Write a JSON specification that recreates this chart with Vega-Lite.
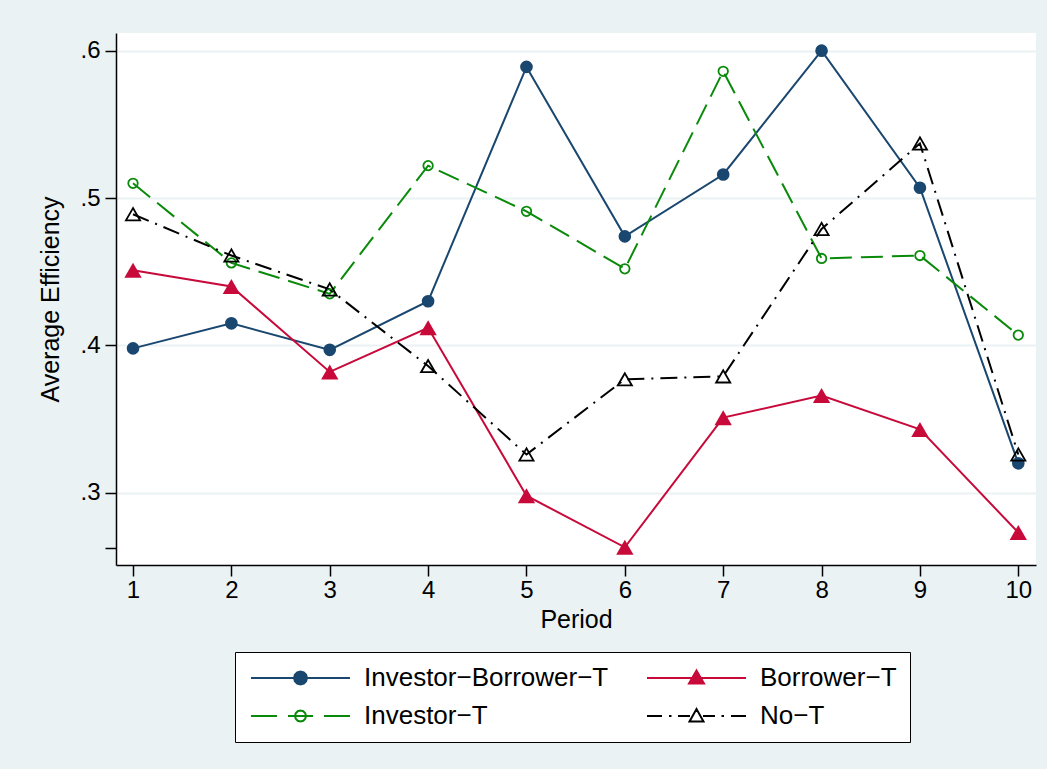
{
  "$schema": "https://vega.github.io/schema/vega-lite/v6.json",
  "width": 920,
  "height": 532,
  "autosize": {"type": "none"},
  "padding": {"left": 116, "top": 33, "right": 11, "bottom": 204},
  "background": "#eaf2f3",
  "datasets": {
    "d": [
      {"period": 1, "series": "Investor−Borrower−T", "value": 0.398},
      {"period": 2, "series": "Investor−Borrower−T", "value": 0.415},
      {"period": 3, "series": "Investor−Borrower−T", "value": 0.397},
      {"period": 4, "series": "Investor−Borrower−T", "value": 0.430},
      {"period": 5, "series": "Investor−Borrower−T", "value": 0.589},
      {"period": 6, "series": "Investor−Borrower−T", "value": 0.474},
      {"period": 7, "series": "Investor−Borrower−T", "value": 0.516},
      {"period": 8, "series": "Investor−Borrower−T", "value": 0.600},
      {"period": 9, "series": "Investor−Borrower−T", "value": 0.507},
      {"period": 10, "series": "Investor−Borrower−T", "value": 0.320},
      {"period": 1, "series": "Borrower−T", "value": 0.451},
      {"period": 2, "series": "Borrower−T", "value": 0.440},
      {"period": 3, "series": "Borrower−T", "value": 0.382},
      {"period": 4, "series": "Borrower−T", "value": 0.412},
      {"period": 5, "series": "Borrower−T", "value": 0.298},
      {"period": 6, "series": "Borrower−T", "value": 0.263},
      {"period": 7, "series": "Borrower−T", "value": 0.351},
      {"period": 8, "series": "Borrower−T", "value": 0.366},
      {"period": 9, "series": "Borrower−T", "value": 0.343},
      {"period": 10, "series": "Borrower−T", "value": 0.273},
      {"period": 1, "series": "Investor−T", "value": 0.510},
      {"period": 2, "series": "Investor−T", "value": 0.456},
      {"period": 3, "series": "Investor−T", "value": 0.435},
      {"period": 4, "series": "Investor−T", "value": 0.522},
      {"period": 5, "series": "Investor−T", "value": 0.491},
      {"period": 6, "series": "Investor−T", "value": 0.452},
      {"period": 7, "series": "Investor−T", "value": 0.586},
      {"period": 8, "series": "Investor−T", "value": 0.459},
      {"period": 9, "series": "Investor−T", "value": 0.461},
      {"period": 10, "series": "Investor−T", "value": 0.407},
      {"period": 1, "series": "No−T", "value": 0.489},
      {"period": 2, "series": "No−T", "value": 0.461},
      {"period": 3, "series": "No−T", "value": 0.438},
      {"period": 4, "series": "No−T", "value": 0.386},
      {"period": 5, "series": "No−T", "value": 0.326},
      {"period": 6, "series": "No−T", "value": 0.377},
      {"period": 7, "series": "No−T", "value": 0.379},
      {"period": 8, "series": "No−T", "value": 0.479},
      {"period": 9, "series": "No−T", "value": 0.537},
      {"period": 10, "series": "No−T", "value": 0.326}
    ]
  },
  "data": {"name": "d"},
  "encoding": {
    "x": {
      "field": "period",
      "type": "quantitative",
      "scale": {"domain": [0.827, 10.18], "nice": false, "zero": false},
      "axis": {
        "values": [1, 2, 3, 4, 5, 6, 7, 8, 9, 10],
        "title": "Period",
        "grid": false,
        "labelPadding": 2,
        "titlePadding": 5
      }
    },
    "y": {
      "field": "value",
      "type": "quantitative",
      "scale": {"domain": [0.251, 0.612], "nice": false, "zero": false},
      "axis": {
        "values": [0.2625, 0.3, 0.4, 0.5, 0.6],
        "title": "Average Efficiency",
        "grid": true,
        "gridColor": {"condition": {"test": "datum.value < 0.28", "value": "rgba(0,0,0,0)"}, "value": "#eaf2f3"},
        "gridWidth": 2,
        "labelExpr": "datum.value < 0.28 ? '' : replace(format(datum.value, '.1f'), '0.', '.')",
        "labelPadding": 5,
        "titlePadding": 16
      }
    }
  },
  "layer": [
    {
      "transform": [{"filter": "datum.series === 'Investor−Borrower−T'"}],
      "mark": {"type": "line", "strokeWidth": 2, "stroke": "#1a476f"},
      "encoding": {}
    },
    {
      "transform": [{"filter": "datum.series === 'Borrower−T'"}],
      "mark": {"type": "line", "strokeWidth": 2, "stroke": "#c70a3a"},
      "encoding": {}
    },
    {
      "transform": [{"filter": "datum.series === 'Investor−T'"}],
      "mark": {"type": "line", "strokeWidth": 2, "stroke": "#0a8a0a", "strokeDash": [22, 9]},
      "encoding": {}
    },
    {
      "transform": [{"filter": "datum.series === 'No−T'"}],
      "mark": {"type": "line", "strokeWidth": 2, "stroke": "#000000", "strokeDash": [17, 7, 2, 7]},
      "encoding": {}
    },
    {
      "transform": [{"filter": "datum.series === 'Investor−Borrower−T'"}],
      "mark": {"type": "point", "shape": "circle", "filled": true, "fill": "#1a476f", "stroke": "#1a476f", "strokeWidth": 0, "size": 160, "opacity": 1}
    },
    {
      "transform": [{"filter": "datum.series === 'Borrower−T'"}],
      "mark": {"type": "point", "shape": "triangle-up", "filled": true, "fill": "#c70a3a", "stroke": "#c70a3a", "strokeWidth": 0, "size": 300, "opacity": 1}
    },
    {
      "transform": [{"filter": "datum.series === 'Investor−T'"}],
      "mark": {"type": "point", "shape": "circle", "filled": false, "fill": null, "stroke": "#0a8a0a", "strokeWidth": 1.8, "size": 90, "opacity": 1}
    },
    {
      "transform": [{"filter": "datum.series === 'No−T'"}],
      "mark": {"type": "point", "shape": "triangle-up", "filled": false, "fill": null, "stroke": "#000000", "strokeWidth": 1.8, "size": 200, "opacity": 1}
    },
    {
      "transform": [{"filter": "datum.period > 100"}],
      "mark": {"type": "point", "filled": true, "opacity": 1},
      "encoding": {
        "stroke": {
          "field": "series",
          "type": "nominal",
          "scale": {
            "domain": ["Investor−Borrower−T", "Borrower−T", "Investor−T", "No−T"],
            "range": ["#1a476f", "#c70a3a", "#0a8a0a", "#000000"]
          },
          "legend": {"title": null}
        },
        "fill": {
          "field": "series",
          "type": "nominal",
          "scale": {
            "domain": ["Investor−Borrower−T", "Borrower−T", "Investor−T", "No−T"],
            "range": ["#1a476f", "#c70a3a", "transparent", "transparent"]
          },
          "legend": {"title": null}
        },
        "shape": {
          "field": "series",
          "type": "nominal",
          "scale": {
            "domain": ["Investor−Borrower−T", "Borrower−T", "Investor−T", "No−T"],
            "range": [
              "M-1,0H8.9M4.6,0L4.513,0.325L4.275,0.563L3.95,0.65L3.625,0.563L3.387,0.325L3.3,0L3.387,-0.325L3.625,-0.563L3.95,-0.65L4.275,-0.563L4.513,-0.325Z",
              "M-1,0H8.9M3.2,0.55L4.7,0.55L3.95,-0.75Z",
              "M-1,0H1.6M2.7,0H5.2M6.3,0H8.9M4.5,0L4.426,0.275L4.225,0.476L3.95,0.55L3.675,0.476L3.474,0.275L3.4,0L3.474,-0.275L3.675,-0.476L3.95,-0.55L4.225,-0.476L4.426,-0.275Z",
              "M-1,0H0.5M1.2,0H1.45M2.1,0H3.3M4.6,0H5.8M6.45,0H6.7M7.4,0H8.9M3.25,0.55L4.65,0.55L3.95,-0.7Z"
            ]
          },
          "legend": {"title": null}
        }
      }
    }
  ],
  "config": {
    "view": {"stroke": null, "fill": "white"},
    "font": "Liberation Sans",
    "axis": {
      "domainColor": "black",
      "domainWidth": 1.5,
      "tickColor": "black",
      "tickWidth": 1.5,
      "tickSize": 11,
      "labelFont": "Liberation Sans",
      "labelFontSize": 24,
      "labelColor": "black",
      "titleFont": "Liberation Sans",
      "titleFontSize": 25,
      "titleFontWeight": "normal",
      "titleColor": "black"
    },
    "legend": {
      "orient": "none",
      "legendX": 119,
      "legendY": 619,
      "direction": "horizontal",
      "columns": 2,
      "strokeColor": "black",
      "fillColor": "white",
      "padding": 13,
      "symbolSize": 400,
      "symbolStrokeWidth": 2,
      "symbolOpacity": 1,
      "labelOffset": 90,
      "columnPadding": 34,
      "rowPadding": 12,
      "labelFont": "Liberation Sans",
      "labelFontSize": 26,
      "labelColor": "black",
      "labelLimit": 0
    }
  }
}
